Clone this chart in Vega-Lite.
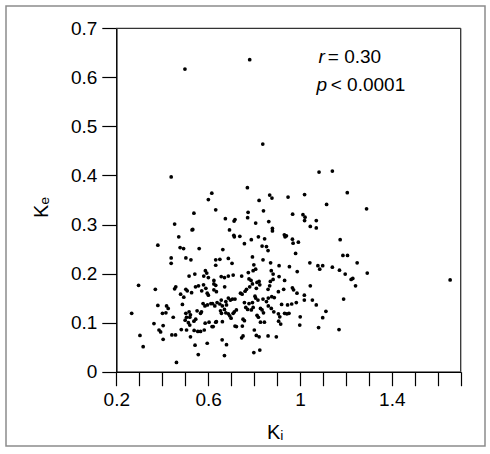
{
  "$schema": "https://vega.github.io/schema/vega-lite/v6.json",
  "autosize": {"type": "none"},
  "padding": {"left": 6, "top": 6, "right": 5, "bottom": 8},
  "width": 479,
  "height": 440,
  "background": "white",
  "config": {
    "view": {"stroke": "#8c8c8c", "strokeWidth": 1.5},
    "font": "Liberation Sans"
  },
  "datasets": {
    "pts": [
      {"Ki":0.499,"Ke":0.617},{"Ki":0.781,"Ke":0.636},{"Ki":0.838,"Ke":0.464},{"Ki":0.439,"Ke":0.397},{"Ki":1.083,"Ke":0.407},
      {"Ki":1.141,"Ke":0.409},{"Ki":1.206,"Ke":0.365},{"Ki":1.290,"Ke":0.332},{"Ki":1.116,"Ke":0.341},{"Ki":1.020,"Ke":0.361},
      {"Ki":0.948,"Ke":0.356},{"Ki":0.868,"Ke":0.360},{"Ki":0.878,"Ke":0.354},{"Ki":0.771,"Ke":0.375},{"Ki":0.616,"Ke":0.364},
      {"Ki":0.601,"Ke":0.351},{"Ki":0.538,"Ke":0.323},{"Ki":0.633,"Ke":0.330},{"Ki":0.822,"Ke":0.349},{"Ki":0.841,"Ke":0.328},
      {"Ki":0.774,"Ke":0.325},{"Ki":0.772,"Ke":0.314},{"Ki":0.675,"Ke":0.312},{"Ki":0.717,"Ke":0.310},{"Ki":0.713,"Ke":0.307},
      {"Ki":0.807,"Ke":0.303},{"Ki":0.864,"Ke":0.306},{"Ki":0.454,"Ke":0.301},{"Ki":0.533,"Ke":0.290},{"Ki":0.530,"Ke":0.289},
      {"Ki":0.693,"Ke":0.289},{"Ki":0.880,"Ke":0.292},{"Ki":0.880,"Ke":0.287},{"Ki":0.968,"Ke":0.321},{"Ki":1.013,"Ke":0.320},
      {"Ki":1.022,"Ke":0.315},{"Ki":1.020,"Ke":0.308},{"Ki":1.071,"Ke":0.308},{"Ki":1.045,"Ke":0.296},{"Ki":1.071,"Ke":0.293},
      {"Ki":0.472,"Ke":0.275},{"Ki":0.712,"Ke":0.278},{"Ki":0.714,"Ke":0.275},{"Ki":0.738,"Ke":0.276},{"Ki":0.819,"Ke":0.275},
      {"Ki":0.846,"Ke":0.271},{"Ki":0.932,"Ke":0.279},{"Ki":0.941,"Ke":0.277},{"Ki":0.935,"Ke":0.275},{"Ki":0.967,"Ke":0.270},
      {"Ki":0.970,"Ke":0.262},{"Ki":0.993,"Ke":0.264},{"Ki":0.381,"Ke":0.258},{"Ki":0.758,"Ke":0.261},{"Ki":0.788,"Ke":0.269},
      {"Ki":0.835,"Ke":0.256},{"Ki":0.854,"Ke":0.255},{"Ki":0.861,"Ke":0.247},{"Ki":0.478,"Ke":0.253},{"Ki":0.493,"Ke":0.251},
      {"Ki":0.561,"Ke":0.251},{"Ki":0.664,"Ke":0.249},{"Ki":0.981,"Ke":0.241},{"Ki":1.175,"Ke":0.269},{"Ki":0.439,"Ke":0.232},
      {"Ki":0.439,"Ke":0.221},{"Ki":0.503,"Ke":0.232},{"Ki":0.525,"Ke":0.228},{"Ki":0.633,"Ke":0.228},{"Ki":0.651,"Ke":0.229},
      {"Ki":0.688,"Ke":0.231},{"Ki":0.704,"Ke":0.221},{"Ki":0.633,"Ke":0.217},{"Ki":0.793,"Ke":0.234},{"Ki":0.799,"Ke":0.218},
      {"Ki":0.839,"Ke":0.228},{"Ki":0.872,"Ke":0.222},{"Ki":0.909,"Ke":0.216},{"Ki":0.954,"Ke":0.214},{"Ki":1.043,"Ke":0.222},
      {"Ki":1.078,"Ke":0.216},{"Ki":1.099,"Ke":0.216},{"Ki":1.086,"Ke":0.209},{"Ki":1.141,"Ke":0.213},{"Ki":1.187,"Ke":0.237},
      {"Ki":1.207,"Ke":0.237},{"Ki":1.249,"Ke":0.222},{"Ki":1.172,"Ke":0.207},{"Ki":1.197,"Ke":0.199},{"Ki":1.293,"Ke":0.201},
      {"Ki":1.654,"Ke":0.187},{"Ki":0.988,"Ke":0.204},{"Ki":0.875,"Ke":0.206},{"Ki":0.796,"Ke":0.206},{"Ki":0.807,"Ke":0.209},
      {"Ki":0.775,"Ke":0.202},{"Ki":0.588,"Ke":0.206},{"Ki":0.594,"Ke":0.201},{"Ki":0.581,"Ke":0.195},{"Ki":0.601,"Ke":0.192},
      {"Ki":0.517,"Ke":0.195},{"Ki":0.542,"Ke":0.199},{"Ki":0.657,"Ke":0.194},{"Ki":0.671,"Ke":0.192},{"Ki":0.688,"Ke":0.195},
      {"Ki":0.709,"Ke":0.197},{"Ki":0.746,"Ke":0.195},{"Ki":0.883,"Ke":0.199},{"Ki":0.909,"Ke":0.194},{"Ki":1.223,"Ke":0.188},
      {"Ki":1.230,"Ke":0.190},{"Ki":1.242,"Ke":0.175},{"Ki":1.045,"Ke":0.175},{"Ki":0.933,"Ke":0.186},{"Ki":0.929,"Ke":0.168},
      {"Ki":0.967,"Ke":0.171},{"Ki":0.972,"Ke":0.167},{"Ki":0.987,"Ke":0.160},{"Ki":1.019,"Ke":0.156},{"Ki":1.019,"Ke":0.146},
      {"Ki":1.054,"Ke":0.146},{"Ki":0.984,"Ke":0.141},{"Ki":1.190,"Ke":0.148},{"Ki":0.883,"Ke":0.188},{"Ki":0.871,"Ke":0.184},
      {"Ki":0.868,"Ke":0.175},{"Ki":0.861,"Ke":0.168},{"Ki":0.906,"Ke":0.163},{"Ki":0.888,"Ke":0.151},{"Ki":0.778,"Ke":0.189},
      {"Ki":0.787,"Ke":0.186},{"Ki":0.781,"Ke":0.173},{"Ki":0.793,"Ke":0.179},{"Ki":0.813,"Ke":0.182},{"Ki":0.822,"Ke":0.184},
      {"Ki":0.825,"Ke":0.177},{"Ki":0.810,"Ke":0.170},{"Ki":0.767,"Ke":0.168},{"Ki":0.761,"Ke":0.164},{"Ki":0.741,"Ke":0.160},
      {"Ki":0.748,"Ke":0.158},{"Ki":0.804,"Ke":0.154},{"Ki":0.625,"Ke":0.186},{"Ki":0.625,"Ke":0.179},{"Ki":0.633,"Ke":0.176},
      {"Ki":0.625,"Ke":0.167},{"Ki":0.636,"Ke":0.163},{"Ki":0.672,"Ke":0.173},{"Ki":0.580,"Ke":0.177},{"Ki":0.590,"Ke":0.170},
      {"Ki":0.572,"Ke":0.165},{"Ki":0.596,"Ke":0.160},{"Ki":0.601,"Ke":0.156},{"Ki":0.545,"Ke":0.173},{"Ki":0.558,"Ke":0.175},
      {"Ki":0.503,"Ke":0.168},{"Ki":0.509,"Ke":0.165},{"Ki":0.528,"Ke":0.161},{"Ki":0.459,"Ke":0.173},{"Ki":0.454,"Ke":0.169},
      {"Ki":0.480,"Ke":0.158},{"Ki":0.494,"Ke":0.152},{"Ki":0.370,"Ke":0.168},{"Ki":0.297,"Ke":0.176},{"Ki":0.717,"Ke":0.148},
      {"Ki":0.688,"Ke":0.150},{"Ki":0.697,"Ke":0.146},{"Ki":0.706,"Ke":0.148},{"Ki":0.657,"Ke":0.146},{"Ki":0.677,"Ke":0.143},
      {"Ki":0.639,"Ke":0.141},{"Ki":0.612,"Ke":0.139},{"Ki":0.807,"Ke":0.150},{"Ki":0.817,"Ke":0.146},{"Ki":0.839,"Ke":0.148},
      {"Ki":0.854,"Ke":0.143},{"Ki":0.862,"Ke":0.150},{"Ki":0.877,"Ke":0.153},{"Ki":0.758,"Ke":0.141},{"Ki":0.778,"Ke":0.139},
      {"Ki":0.793,"Ke":0.141},{"Ki":1.071,"Ke":0.136},{"Ki":0.920,"Ke":0.137},{"Ki":0.946,"Ke":0.136},{"Ki":0.964,"Ke":0.138},
      {"Ki":0.662,"Ke":0.134},{"Ki":0.680,"Ke":0.136},{"Ki":0.671,"Ke":0.127},{"Ki":0.677,"Ke":0.120},{"Ki":0.688,"Ke":0.118},
      {"Ki":0.694,"Ke":0.114},{"Ki":0.700,"Ke":0.109},{"Ki":0.709,"Ke":0.119},{"Ki":0.714,"Ke":0.122},{"Ki":0.723,"Ke":0.126},
      {"Ki":0.764,"Ke":0.131},{"Ki":0.772,"Ke":0.127},{"Ki":0.788,"Ke":0.126},{"Ki":0.796,"Ke":0.131},{"Ki":0.828,"Ke":0.129},
      {"Ki":0.835,"Ke":0.126},{"Ki":0.862,"Ke":0.134},{"Ki":0.875,"Ke":0.129},{"Ki":0.886,"Ke":0.122},{"Ki":0.906,"Ke":0.118},
      {"Ki":0.912,"Ke":0.112},{"Ki":0.907,"Ke":0.103},{"Ki":0.916,"Ke":0.097},{"Ki":0.943,"Ke":0.118},{"Ki":0.952,"Ke":0.119},
      {"Ki":0.933,"Ke":0.119},{"Ki":1.001,"Ke":0.112},{"Ki":0.999,"Ke":0.095},{"Ki":0.813,"Ke":0.115},{"Ki":0.819,"Ke":0.111},
      {"Ki":0.752,"Ke":0.107},{"Ki":0.758,"Ke":0.104},{"Ki":0.749,"Ke":0.093},{"Ki":0.828,"Ke":0.101},{"Ki":0.845,"Ke":0.101},
      {"Ki":0.717,"Ke":0.093},{"Ki":0.723,"Ke":0.092},{"Ki":0.636,"Ke":0.102},{"Ki":0.662,"Ke":0.102},{"Ki":0.622,"Ke":0.092},
      {"Ki":0.752,"Ke":0.073},{"Ki":0.746,"Ke":0.069},{"Ki":0.801,"Ke":0.085},{"Ki":0.810,"Ke":0.074},{"Ki":0.822,"Ke":0.071},
      {"Ki":0.861,"Ke":0.073},{"Ki":0.897,"Ke":0.071},{"Ki":0.661,"Ke":0.065},{"Ki":0.680,"Ke":0.055},{"Ki":0.671,"Ke":0.033},
      {"Ki":0.799,"Ke":0.039},{"Ki":0.825,"Ke":0.044},{"Ki":0.841,"Ke":0.120},{"Ki":1.099,"Ke":0.110},{"Ki":1.113,"Ke":0.123},
      {"Ki":1.081,"Ke":0.090},{"Ki":1.170,"Ke":0.086},{"Ki":0.651,"Ke":0.138},{"Ki":0.629,"Ke":0.134},{"Ki":0.267,"Ke":0.119},
      {"Ki":0.381,"Ke":0.135},{"Ki":0.419,"Ke":0.134},{"Ki":0.426,"Ke":0.129},{"Ki":0.401,"Ke":0.119},{"Ki":0.416,"Ke":0.120},
      {"Ki":0.448,"Ke":0.111},{"Ki":0.488,"Ke":0.137},{"Ki":0.364,"Ke":0.098},{"Ki":0.386,"Ke":0.085},{"Ki":0.393,"Ke":0.081},
      {"Ki":0.404,"Ke":0.094},{"Ki":0.404,"Ke":0.066},{"Ki":0.303,"Ke":0.074},{"Ki":0.317,"Ke":0.051},{"Ki":0.442,"Ke":0.075},
      {"Ki":0.458,"Ke":0.075},{"Ki":0.483,"Ke":0.086},{"Ki":0.462,"Ke":0.019},{"Ki":0.506,"Ke":0.085},{"Ki":0.503,"Ke":0.119},
      {"Ki":0.506,"Ke":0.111},{"Ki":0.500,"Ke":0.105},{"Ki":0.517,"Ke":0.122},{"Ki":0.523,"Ke":0.116},{"Ki":0.520,"Ke":0.111},
      {"Ki":0.514,"Ke":0.100},{"Ki":0.520,"Ke":0.095},{"Ki":0.539,"Ke":0.084},{"Ki":0.523,"Ke":0.071},{"Ki":0.543,"Ke":0.054},
      {"Ki":0.555,"Ke":0.082},{"Ki":0.567,"Ke":0.082},{"Ki":0.557,"Ke":0.035},{"Ki":0.538,"Ke":0.103},{"Ki":0.546,"Ke":0.107},
      {"Ki":0.552,"Ke":0.124},{"Ki":0.571,"Ke":0.122},{"Ki":0.567,"Ke":0.119},{"Ki":0.578,"Ke":0.139},{"Ki":0.586,"Ke":0.134},
      {"Ki":0.597,"Ke":0.136},{"Ki":0.583,"Ke":0.085},{"Ki":0.587,"Ke":0.099},{"Ki":0.596,"Ke":0.058},{"Ki":0.604,"Ke":0.101},
      {"Ki":0.617,"Ke":0.092},{"Ki":0.633,"Ke":0.101},{"Ki":0.619,"Ke":0.139},{"Ki":0.654,"Ke":0.124},{"Ki":0.658,"Ke":0.119}
    ]
  },
  "layer": [
    {
      "data": {"name": "pts"},
      "mark": {"type": "circle", "size": 14, "color": "black", "opacity": 1},
      "encoding": {
        "x": {
          "field": "Ki", "type": "quantitative",
          "scale": {"domain": [0.2, 1.7], "range": [110.3, 454.7], "nice": false, "zero": false},
          "axis": {
            "orient": "bottom", "offset": -74.3,
            "values": [0.2,0.3,0.4,0.5,0.6,0.7,0.8,0.9,1,1.1,1.2,1.3,1.4,1.5,1.6,1.7],
            "tickCount": 30,
            "format": "~g",
            "labelOpacity": {"condition": {"test": "(round(datum.value*10) - 2) % 4 == 0", "value": 1}, "value": 0},
            "grid": false, "ticks": true, "tickSize": 14, "tickColor": "black", "tickWidth": 1.2, "tickOpacity": 1,
            "domainColor": "black", "domainWidth": 1.5,
            "labelFont": "Liberation Sans", "labelFontSize": 19, "labelColor": "black", "labelPadding": 5,
            "labelFlush": false, "labelOverlap": false,
            "title": "Kᵢ", "titleFont": "Liberation Sans", "titleFontSize": 20, "titleFontWeight": "normal", "titleColor": "black",
            "titleX": 268.7, "titleY": 67, "titleAlign": "center", "titleBaseline": "alphabetic"
          }
        },
        "y": {
          "field": "Ke", "type": "quantitative",
          "scale": {"domain": [0, 0.7], "range": [365.7, 22.3], "nice": false, "zero": false},
          "axis": {
            "orient": "left", "offset": -110.3,
            "values": [0,0.1,0.2,0.3,0.4,0.5,0.6,0.7],
            "tickCount": 20,
            "format": "~g",
            "grid": false, "tickSize": 14.5, "tickColor": "black", "tickWidth": 1.2,
            "domainColor": "black", "domainWidth": 1.5,
            "labelFont": "Liberation Sans", "labelFontSize": 19, "labelColor": "black", "labelPadding": 5,
            "labelFlush": false, "labelOverlap": false,
            "title": "Kₑ", "titleFont": "Liberation Sans", "titleFontSize": 20, "titleFontWeight": "normal", "titleColor": "black",
            "titleX": -69, "titleY": 201, "titleAngle": 270, "titleAlign": "center", "titleBaseline": "alphabetic"
          }
        }
      }
    },
    {
      "data": {"values": [{}]},
      "mark": {"type": "rule", "color": "#333333", "strokeWidth": 1.3},
      "encoding": {
        "x": {"datum": 0.2, "type": "quantitative"},
        "x2": {"datum": 1.7},
        "y": {"datum": 0.7, "type": "quantitative"}
      }
    },
    {
      "data": {"values": [{}]},
      "mark": {"type": "rule", "color": "#333333", "strokeWidth": 1.3},
      "encoding": {
        "x": {"datum": 1.7, "type": "quantitative"},
        "y": {"datum": 0, "type": "quantitative"},
        "y2": {"datum": 0.7}
      }
    },
    {
      "data": {"values": [{}]},
      "mark": {"type": "text", "text": "r", "font": "Liberation Sans", "fontSize": 19, "fontStyle": "italic", "align": "left", "baseline": "alphabetic", "color": "black"},
      "encoding": {"x": {"datum": 1.081, "type": "quantitative"}, "y": {"datum": 0.629, "type": "quantitative"}}
    },
    {
      "data": {"values": [{}]},
      "mark": {"type": "text", "text": "= 0.30", "font": "Liberation Sans", "fontSize": 19, "align": "left", "baseline": "alphabetic", "color": "black"},
      "encoding": {"x": {"datum": 1.121, "type": "quantitative"}, "y": {"datum": 0.629, "type": "quantitative"}}
    },
    {
      "data": {"values": [{}]},
      "mark": {"type": "text", "text": "p", "font": "Liberation Sans", "fontSize": 19, "fontStyle": "italic", "align": "left", "baseline": "alphabetic", "color": "black"},
      "encoding": {"x": {"datum": 1.072, "type": "quantitative"}, "y": {"datum": 0.573, "type": "quantitative"}}
    },
    {
      "data": {"values": [{}]},
      "mark": {"type": "text", "text": "< 0.0001", "font": "Liberation Sans", "fontSize": 19, "align": "left", "baseline": "alphabetic", "color": "black"},
      "encoding": {"x": {"datum": 1.134, "type": "quantitative"}, "y": {"datum": 0.573, "type": "quantitative"}}
    }
  ]
}
